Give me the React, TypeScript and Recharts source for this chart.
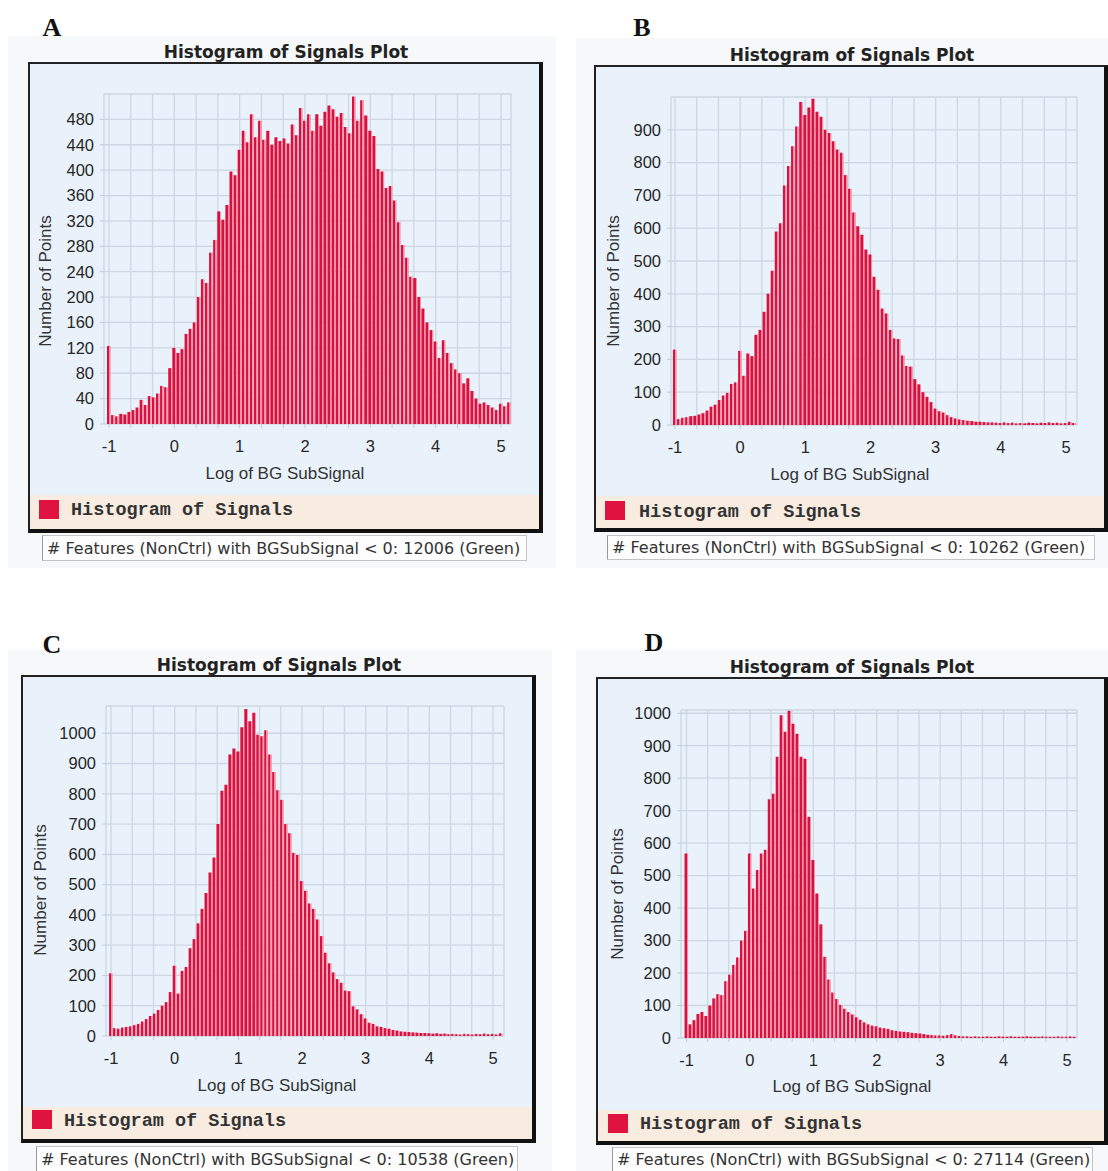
import React from "react";
import { BarChart, Bar, XAxis, YAxis, CartesianGrid } from "recharts";

// histogram bins: first bin centred on -1, step 1/16 of a log unit
const BIN_START = -1;
const BIN_WIDTH = 0.0625;

const X_TICKS = [-1, 0, 1, 2, 3, 4, 5];
// minor vertical grid every 1/3 unit
const X_GRID = Array.from({ length: 19 }, (_, i) => -1 + i / 3);

const Y_TICKS_A = [0, 40, 80, 120, 160, 200, 240, 280, 320, 360, 400, 440, 480];
const Y_TICKS_B = [0, 100, 200, 300, 400, 500, 600, 700, 800, 900];
const Y_TICKS_CD = [0, 100, 200, 300, 400, 500, 600, 700, 800, 900, 1000];

const COUNTS_A = [
  123, 14, 12, 16, 15, 19, 22, 26, 38, 30,
  44, 42, 48, 60, 58, 88, 120, 112, 118, 142,
  150, 160, 200, 228, 222, 270, 290, 335, 322, 345,
  398, 392, 432, 462, 444, 488, 452, 478, 448, 462,
  440, 452, 446, 450, 442, 472, 455, 498, 478, 488,
  462, 488, 470, 492, 502, 496, 484, 490, 468, 458,
  516, 478, 510, 486, 462, 454, 402, 398, 372, 375,
  352, 318, 282, 262, 232, 230, 200, 182, 160, 148,
  130, 104, 132, 112, 96, 86, 80, 64, 72, 52,
  40, 32, 34, 30, 26, 22, 32, 28, 34,
];

const COUNTS_B = [
  230, 18, 22, 24, 27, 28, 32, 36, 44, 56,
  62, 76, 90, 98, 125, 130, 226, 150, 218, 210,
  275, 290, 345, 400, 470, 590, 615, 730, 790, 850,
  910, 985, 945, 968, 995, 955, 940, 900, 890, 865,
  840, 830, 762, 720, 648, 606, 580, 535, 520, 452,
  412, 355, 340, 290, 264, 262, 212, 180, 178, 140,
  124, 100, 86, 70, 50, 42, 38, 30, 24, 20,
  17, 15, 13, 12, 10, 10, 9, 8, 8, 7,
  6, 8, 6, 7, 5, 6, 5, 7, 6, 5,
  7, 6, 8, 6, 7, 5, 6, 10, 6,
];

const COUNTS_C = [
  207, 26, 24, 28, 30, 32, 36, 40, 48, 56,
  66, 74, 86, 100, 112, 145, 232, 140, 215, 228,
  290, 320, 372, 420, 472, 540, 590, 700, 810, 830,
  930, 950, 940, 1020, 1080, 1040, 1068, 995, 990, 1010,
  930, 872, 812, 780, 700, 670, 605, 598, 512, 480,
  438, 420, 385, 330, 275, 240, 210, 188, 176, 150,
  148, 98, 88, 72, 58, 44, 40, 32, 30, 26,
  24, 20, 18, 15, 14, 13, 12, 11, 10, 10,
  9, 8, 9, 7, 8, 6, 7, 6, 5, 7,
  6, 5, 7, 6, 8, 6, 7, 5, 9,
];

const COUNTS_D = [
  568, 42, 55, 74, 80, 68, 100, 122, 135, 132,
  175, 195, 225, 248, 300, 330, 568, 460, 517, 568,
  580, 735, 752, 866, 994, 943, 1008, 968, 937, 866,
  860, 681, 548, 445, 350, 250, 180, 140, 120, 102,
  90, 80, 72, 64, 56, 48, 42, 38, 36, 32,
  30, 28, 24, 22, 20, 19, 18, 16, 15, 14,
  12, 10, 9, 8, 8, 7, 9, 12, 8, 6,
  5, 5, 4, 5, 4, 4, 5, 4, 4, 5,
  4, 4, 5, 4, 4, 4, 5, 4, 4, 4,
  5, 4, 4, 4, 5, 4, 4, 5, 4,
];

const NEGATIVE_FEATURES = [12006, 10262, 10538, 27114];

const TITLE = "Histogram of Signals Plot";
const X_TITLE = "Log of BG SubSignal";
const Y_TITLE = "Number of Points";
const LEGEND = "Histogram of Signals";

const BAR_DARK = "#d7123f";
const BAR_LIGHT = "#f38ca5";

type Panel = {
  key: string;
  counts: number[];
  yMax: number;
  yTicks: number[];
  negatives: number;
  letter: [number, number];
  title: [number, number];
  frame: [number, number, number, number];
  legendTop: number;
  plot: [number, number, number, number];
  xDomain: [number, number];
  yTitle: [number, number];
  xTitle: [number, number];
  swatch: [number, number];
  legendText: [number, number];
  note: [number, number, number, number];
  shade: [number, number, number, number];
};

const PANELS: Panel[] = [
  {
    key: "A", counts: COUNTS_A, yMax: 520, yTicks: Y_TICKS_A, negatives: NEGATIVE_FEATURES[0],
    letter: [52, 28], title: [286, 52], frame: [28, 62, 543, 533], legendTop: 495,
    plot: [104, 94, 511, 424], xDomain: [-1.077, 5.153], yTitle: [46, 281], xTitle: [285, 474],
    swatch: [39, 500], legendText: [71, 510], note: [42, 535, 527, 561], shade: [8, 36, 556, 568],
  },
  {
    key: "B", counts: COUNTS_B, yMax: 1000, yTicks: Y_TICKS_B, negatives: NEGATIVE_FEATURES[1],
    letter: [642, 28], title: [852, 55], frame: [594, 65, 1108, 532], legendTop: 496,
    plot: [671, 97, 1077, 425], xDomain: [-1.061, 5.169], yTitle: [614, 281], xTitle: [850, 475],
    swatch: [605, 501], legendText: [639, 512], note: [607, 535, 1095, 560], shade: [576, 38, 1108, 568],
  },
  {
    key: "C", counts: COUNTS_C, yMax: 1090, yTicks: Y_TICKS_CD, negatives: NEGATIVE_FEATURES[2],
    letter: [52, 645], title: [279, 665], frame: [21, 675, 536, 1143], legendTop: 1107,
    plot: [106, 706, 504, 1036], xDomain: [-1.079, 5.173], yTitle: [41, 890], xTitle: [277, 1086],
    swatch: [32, 1110], legendText: [64, 1121], note: [36, 1146, 518, 1172], shade: [8, 650, 552, 1171],
  },
  {
    key: "D", counts: COUNTS_D, yMax: 1010, yTicks: Y_TICKS_CD, negatives: NEGATIVE_FEATURES[3],
    letter: [654, 643], title: [852, 667], frame: [596, 677, 1108, 1145], legendTop: 1110,
    plot: [681, 710, 1077, 1038], xDomain: [-1.087, 5.158], yTitle: [618, 894], xTitle: [852, 1087],
    swatch: [608, 1114], legendText: [640, 1124], note: [612, 1147, 1093, 1172], shade: [576, 650, 1108, 1171],
  },
];

const YW = 44;
const XH = 30;

const SANS = "'Liberation Sans', Arial, sans-serif";
const VERDANA = "'DejaVu Sans', Verdana, sans-serif";

const centered = (x: number, y: number, style: React.CSSProperties = {}) => ({
  position: "absolute" as const,
  left: x,
  top: y,
  transform: "translate(-50%, -50%)",
  whiteSpace: "nowrap" as const,
  ...style,
});

const fmtX = (v: number) => {
  const r = Math.round(v);
  return Math.abs(v - r) < 1e-6 && X_TICKS.includes(r) ? String(r) : "";
};

const Histogram = ({ p }: { p: Panel }) => {
  const [fl, ft, fr, fb] = p.frame;
  const [pl, pt, pr, pb] = p.plot;
  const width = fr - fl;
  const height = p.legendTop - ft;
  const unit = (pr - pl) / (p.xDomain[1] - p.xDomain[0]);
  const data = p.counts.map((n, i) => ({ x: BIN_START + i * BIN_WIDTH, n }));
  const gradId = `bar-grad-${p.key}`;
  const tickStyle = { fontSize: 16.5, fill: "#262626", fontFamily: SANS };

  return (
    <>
      <div style={{ position: "absolute", left: p.shade[0], top: p.shade[1], width: p.shade[2] - p.shade[0], height: p.shade[3] - p.shade[1], background: "#f7f8f9" }} />
      <div style={centered(p.letter[0], p.letter[1], { fontFamily: "'Liberation Serif', serif", fontWeight: 700, fontSize: 26, color: "#111" })}>
        {p.key}
      </div>
      <div style={centered(p.title[0], p.title[1], { fontFamily: VERDANA, fontWeight: 700, fontSize: 17, color: "#222" })}>
        {TITLE}
      </div>
      <div
        style={{
          position: "absolute", left: fl, top: ft, width: fr - fl, height: fb - ft, boxSizing: "border-box",
          background: "#e9f2fb", borderTop: "2px solid #222", borderLeft: "2px solid #222",
          borderRight: "4px solid #111", borderBottom: "4px solid #111",
        }}
      >
        <div style={{ position: "absolute", left: 0, right: 0, top: p.legendTop - ft - 2, bottom: 0, background: "#f8ece1" }} />
      </div>
      <div style={{ position: "absolute", left: fl, top: ft }}>
        <BarChart
          width={width}
          height={height}
          data={data}
          margin={{ top: pt - ft, right: fr - pr, bottom: p.legendTop - pb - XH, left: pl - fl - YW }}
        >
          <defs>
            <linearGradient id={gradId} x1="0" y1="0" x2="1" y2="0">
              <stop offset="0%" stopColor={BAR_DARK} />
              <stop offset="62%" stopColor={BAR_DARK} />
              <stop offset="64%" stopColor={BAR_LIGHT} />
              <stop offset="100%" stopColor={BAR_LIGHT} />
            </linearGradient>
          </defs>
          <CartesianGrid
            stroke="#cdd6e2"
            strokeWidth={1.3}
            verticalValues={[p.xDomain[0], ...X_GRID, p.xDomain[1]]}
            horizontalValues={[...p.yTicks, p.yMax]}
          />
          <XAxis
            type="number"
            dataKey="x"
            domain={p.xDomain}
            allowDataOverflow
            ticks={X_GRID}
            interval={0}
            tickFormatter={fmtX}
            height={XH}
            axisLine={false}
            tickLine={{ stroke: "#c3ccd8" }}
            tickSize={4}
            tickMargin={12}
            tick={tickStyle}
          />
          <YAxis
            type="number"
            domain={[0, p.yMax]}
            allowDataOverflow
            ticks={p.yTicks}
            interval={0}
            width={YW}
            axisLine={false}
            tickLine={{ stroke: "#c3ccd8" }}
            tickSize={4}
            tickMargin={6}
            tick={tickStyle}
          />
          <Bar dataKey="n" fill={`url(#${gradId})`} barSize={BIN_WIDTH * unit} isAnimationActive={false} />
        </BarChart>
      </div>
      <div style={centered(p.yTitle[0], p.yTitle[1], { transform: "translate(-50%, -50%) rotate(-90deg)", fontFamily: SANS, fontSize: 17, color: "#333" })}>
        {Y_TITLE}
      </div>
      <div style={centered(p.xTitle[0], p.xTitle[1], { fontFamily: SANS, fontSize: 17, color: "#333" })}>
        {X_TITLE}
      </div>
      <div style={{ position: "absolute", left: p.swatch[0], top: p.swatch[1], width: 20, height: 19, background: "#e0123f" }} />
      <div style={{ position: "absolute", left: p.legendText[0], top: p.legendText[1], transform: "translateY(-50%)", fontFamily: "'Liberation Mono', 'Courier New', monospace", fontWeight: 700, fontSize: 18.5, color: "#333", whiteSpace: "nowrap" }}>
        {LEGEND}
      </div>
      <div
        style={{
          position: "absolute", left: p.note[0], top: p.note[1], width: p.note[2] - p.note[0], height: p.note[3] - p.note[1],
          boxSizing: "border-box", background: "#fdfdfd", border: "1px solid #c4c4c4", borderLeftColor: "#999",
          display: "flex", alignItems: "center", paddingLeft: 4,
          fontFamily: VERDANA, fontSize: 16, color: "#333", whiteSpace: "nowrap", overflow: "hidden",
        }}
      >
        {`# Features (NonCtrl) with BGSubSignal < 0: ${p.negatives} (Green)`}
      </div>
    </>
  );
};

const App = () => (
  <div style={{ position: "absolute", left: 0, top: 0, width: 1108, height: 1171, background: "#fff", overflow: "hidden" }}>
    {PANELS.map((p) => (
      <Histogram key={p.key} p={p} />
    ))}
  </div>
);

export default App;
